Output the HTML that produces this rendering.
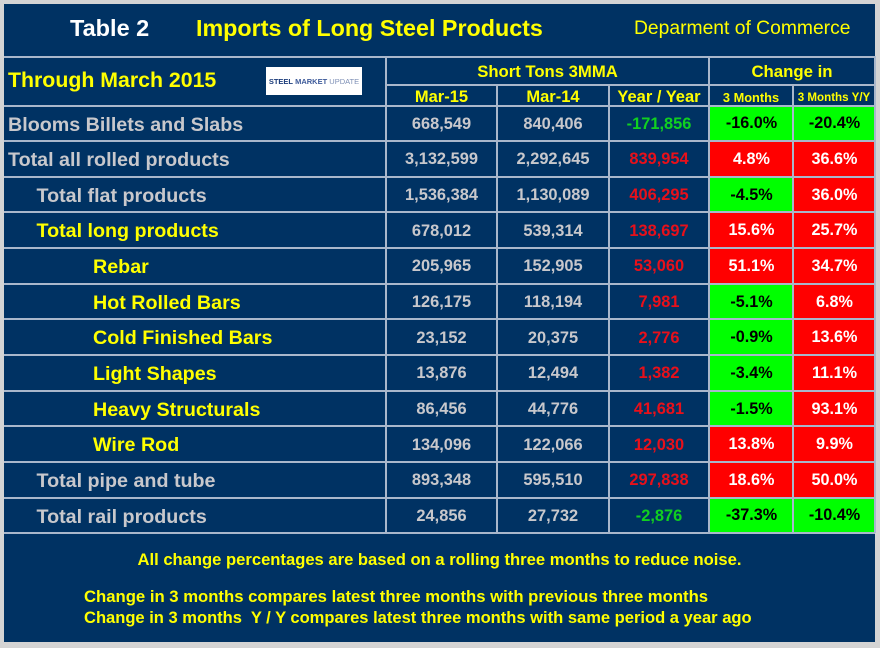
<!DOCTYPE html>
<html><head><meta charset="utf-8"><style>
body{margin:0;width:880px;height:648px;background:#d4d4d4;overflow:hidden;font-family:"Liberation Sans",Arial,sans-serif;font-weight:bold}
#panel{position:absolute;left:4px;top:4px;width:871px;height:638px;background:#003263}
.a{position:absolute;box-sizing:border-box}
.hl{position:absolute;background:#a9b7cb;height:2px}
.vl{position:absolute;background:#a9b7cb;width:2px}
.c{display:flex;align-items:center;justify-content:center;white-space:nowrap}
</style></head><body>
<div id="panel"></div>
<div class="a" style="left:70px;top:15px;font-size:23.5px;color:#fff">Table 2</div>
<div class="a" style="left:196px;top:15px;font-size:23.3px;color:#ffff00">Imports of Long Steel Products</div>
<div class="a" style="left:634px;top:18px;font-size:19.3px;font-weight:normal;color:#ffff00">Deparment of Commerce</div>
<div class="a" style="left:8px;top:68px;font-size:21.3px;color:#ffff00">Through March 2015</div>
<div class="a c" style="left:266px;top:67px;width:96px;height:28px;background:#fff;font-size:7.5px"><span style="color:#1a3b7a">STEEL </span><span style="color:#3d5a9a">&nbsp;MARKET</span><span style="color:#7d8fb5;font-weight:normal">&nbsp;UPDATE</span></div>
<div class="a c" style="left:386px;top:58px;width:323px;height:27px;font-size:16.7px;color:#ffff00">Short Tons 3MMA</div>
<div class="a c" style="left:709px;top:58px;width:166px;height:27px;font-size:16.8px;color:#ffff00">Change in</div>
<div id="grid"></div>
<div class="a c" style="left:4px;top:550px;width:871px;height:20px;font-size:16.6px;color:#ffff00">All change percentages are based on a rolling three months to reduce noise.</div>
<div class="a" style="left:84px;top:587px;font-size:16.7px;color:#ffff00;white-space:pre">Change in 3 months compares latest three months with previous three months</div>
<div class="a" style="left:84px;top:608px;font-size:16.55px;color:#ffff00;white-space:pre">Change in 3 months  Y / Y compares latest three months with same period a year ago</div>
<script>
const labels=["Blooms Billets and Slabs","Total all rolled products","Total flat products","Total long products","Rebar","Hot Rolled Bars","Cold Finished Bars","Light Shapes","Heavy Structurals","Wire Rod","Total pipe and tube","Total rail products"];
const indents=[0,0,1,1,2,2,2,2,2,2,1,1];
const labelYellow=[0,0,0,1,1,1,1,1,1,1,0,0];
const mar15=["668,549","3,132,599","1,536,384","678,012","205,965","126,175","23,152","13,876","86,456","134,096","893,348","24,856"];
const mar14=["840,406","2,292,645","1,130,089","539,314","152,905","118,194","20,375","12,494","44,776","122,066","595,510","27,732"];
const yoy=[-171856,839954,406295,138697,53060,7981,2776,1382,41681,12030,297838,-2876];
const ch3=[-16.0,4.8,-4.5,15.6,51.1,-5.1,-0.9,-3.4,-1.5,13.8,18.6,-37.3];
const ch3yy=[-20.4,36.6,36.0,25.7,34.7,6.8,13.6,11.1,93.1,9.9,50.0,-10.4];
const g=document.getElementById('grid');
const top0=105.5,rh=35.65;
const cols=[4,386,497,609,709,793,875];
function add(html){const d=document.createElement('div');d.innerHTML=html;const e=d.firstChild;g.appendChild(e);return e;}
const sub=["Mar-15","Mar-14","Year / Year","3 Months","3 Months Y/Y"];
const subSize=[16.5,16.5,16.5,12.8,11.6];
sub.forEach((s,i)=>{const e=add(`<div class="a c" style="left:${cols[i+1]}px;top:86px;width:${cols[i+2]-cols[i+1]}px;height:22px;font-size:${subSize[i]}px;color:#ffff00">${s}</div>`);

});
const fmt=v=>(v<0?"-":"")+Math.abs(v).toLocaleString('en-US');
labels.forEach((l,r)=>{
 const y=top0+r*rh;
 let e=add(`<div class="a" style="left:${8+indents[r]*28.5}px;top:${y+2}px;height:${rh}px;line-height:${rh}px;font-size:19.7px;color:${labelYellow[r]?'#ffff00':'#c8c8cc'}">${l}</div>`);
 if(indents[r]==2)e.style.left='93px';
 
 
 const vals=[mar15[r],mar14[r],fmt(yoy[r])];
 vals.forEach((v,i)=>{const c=i<2?'#c8c8cc':(yoy[r]<0?'#10d020':'#e8101a');
  const el=add(`<div class="a c" style="left:${cols[i+1]}px;top:${y+1}px;width:${cols[i+2]-cols[i+1]}px;height:${rh}px;font-size:16.4px;color:${c}">${v}</div>`);
  
  });
 [ch3[r],ch3yy[r]].forEach((v,i)=>{const neg=v<0;
  const el=add(`<div class="a c" style="left:${cols[i+4]+1}px;top:${y+1}px;width:${cols[i+5]-cols[i+4]-1}px;height:${rh-1}px;font-size:16.2px;background:${neg?'#00ff00':'#ff0000'};color:${neg?'#000':'#fff'}">${v.toFixed(1)}%</div>`);
  
  });
});
const hls=[[4,875,56],[386,875,84]];
for(let r=0;r<=12;r++)hls.push([4,875,top0+r*rh-1]);
hls.forEach(h=>{const e=add(`<div class="hl" style="left:${h[0]}px;width:${h[1]-h[0]}px;top:${h[2]}px"></div>`);
 
 });
const vls=[[386,56],[497,84],[609,84],[709,56],[793,84],[875,56]];
vls.forEach(v=>{const e=add(`<div class="vl" style="left:${v[0]-1}px;top:${v[1]}px;height:${top0+12*rh-v[1]}px"></div>`);
 
 });
</script>
</body></html>
